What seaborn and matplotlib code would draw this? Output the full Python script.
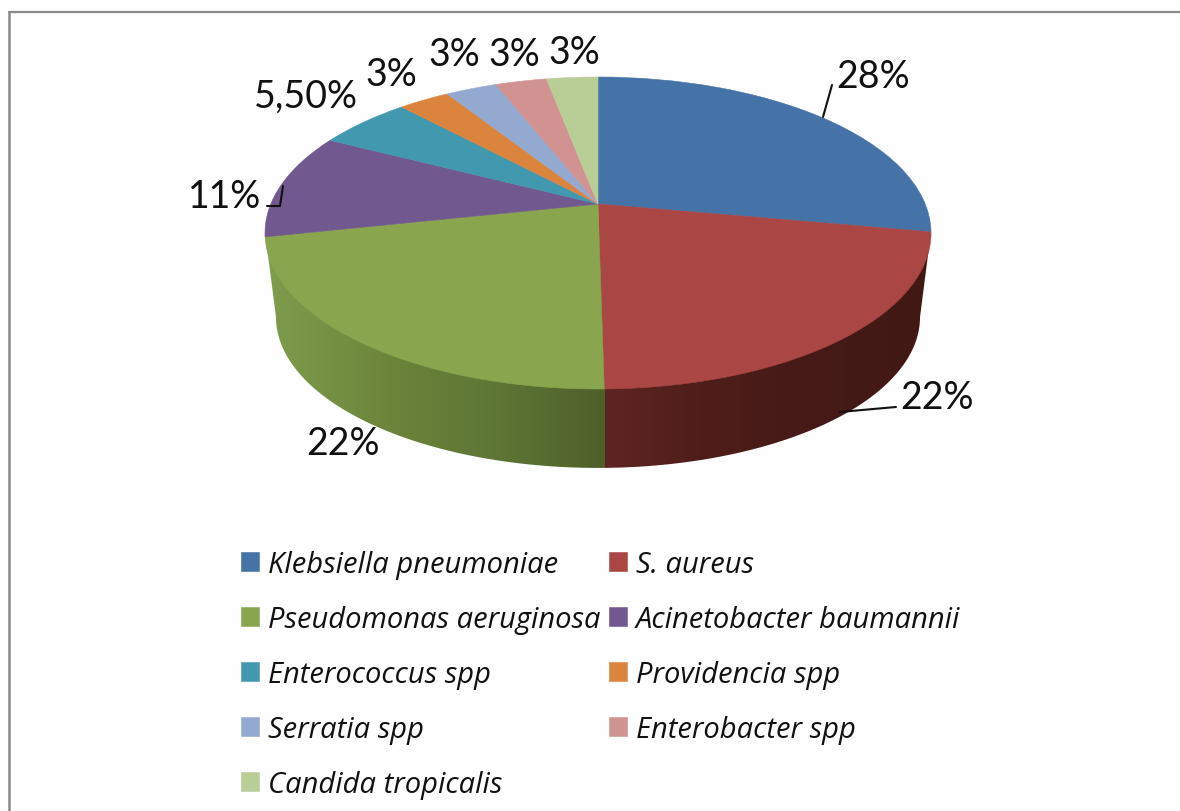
# %% Imports
import numpy as np
import matplotlib
matplotlib.use('Agg')
import matplotlib.pyplot as plt
from matplotlib.colors import to_rgb
from matplotlib.patches import Polygon
from matplotlib.transforms import Transform
import seaborn as sns

sns.set_theme(style='white')
plt.rcParams['font.family'] = ['Lato', 'DejaVu Sans']

# %% Data

species = ['Klebsiella pneumoniae', 'S. aureus', 'Pseudomonas aeruginosa', 'Acinetobacter baumannii',
           'Enterococcus spp', 'Providencia spp', 'Serratia spp', 'Enterobacter spp', 'Candida tropicalis']
percent = [28, 22, 22, 11, 5.5, 3, 3, 3, 3]
percent_labels = ['28%', '22%', '22%', '11%', '5,50%', '3%', '3%', '3%', '3%']
colors = ['#4572a7', '#aa4643', '#89a54e', '#71588f', '#4198af', '#db843d', '#93a9cf', '#d19392', '#b9cd96']

# where each label sits in the picture (pixels)
label_x = [873, 937, 343, 225, 306, 391, 454, 514, 574]
label_y = [77, 398, 444, 197, 97, 75, 55, 55, 53]

palette = sns.color_palette(colors)

# wall shading, dark side of the pie
wall_x = [266, 280, 400, 500, 604, 604.5, 700, 800, 932]
wall_colors = ['#80a04e', '#7d9a4b', '#6a8239', '#5e7535', '#4e602a', '#5f2522', '#4f1e1a', '#451a17', '#421815']


# %% Perspective view of the flat disk

class DiskView(Transform):
    input_dims = 2
    output_dims = 2
    is_separable = False

    def __init__(self, cx, cy, a, b, k):
        super().__init__()
        self.cx, self.cy, self.a, self.b, self.k = cx, cy, a, b, k

    def transform_non_affine(self, values):
        values = np.asarray(values, dtype=float)
        den = 1 + self.k * values[:, 1]
        return np.column_stack([self.cx + self.a * values[:, 0] / den,
                                self.cy - self.b * values[:, 1] / den])


top_view = DiskView(598, 205, 327.2, 150.6, 0.186)
bottom_view = DiskView(598, 290, 327.2 * 0.967, 150.6 * 0.967, 0.186)

# %% Plot

fig = plt.figure(figsize=(11.8, 8.12), dpi=100, facecolor='#fefefe')
ax = fig.add_axes([0, 0, 1, 1])

wedges, _ = ax.pie(percent, colors=palette, startangle=90, counterclock=False)
for wedge in wedges:
    wedge.set_edgecolor(wedge.get_facecolor())
    wedge.set_linewidth(0.4)
    wedge.set_transform(top_view + ax.transData)

# side wall, outline from the widest points of both rims
t = np.linspace(np.pi + 0.187, 2 * np.pi - 0.187, 200)
rim = bottom_view.transform_non_affine(np.column_stack([np.cos(t), np.sin(t)]))
upper = top_view.transform_non_affine(np.array([[0.982, -0.186], [-0.982, -0.186]]))
wall = Polygon(np.vstack([rim, upper]), closed=True, facecolor='none', edgecolor='none', transform=ax.transData)
ax.add_patch(wall)

cols = np.arange(1180)
shade = np.array([to_rgb(c) for c in wall_colors])
strip = np.column_stack([np.interp(cols, wall_x, shade[:, i]) for i in range(3)])[np.newaxis, :, :]
im = ax.imshow(strip, extent=(0, 1180, 480, 200), aspect='auto', interpolation='nearest', zorder=0)
im.set_clip_path(wall)

for text, x, y in zip(percent_labels, label_x, label_y):
    ax.text(x, y, text, fontsize=27, color='#111111', ha='center', va='center')

# leader lines
ax.plot([823, 832], [118, 86], color='#111111', lw=1.5)
ax.plot([840, 862, 896], [413, 411, 408], color='#111111', lw=1.5)
ax.plot([267, 280, 283], [207, 207, 187], color='#111111', lw=1.5)

# frame of the screenshot, top and left only
ax.plot([9, 1180], [12.5, 12.5], color='#8a8a8a', lw=1.6)
ax.plot([9, 9], [12.5, 812], color='#8a8a8a', lw=1.8)

# legend reads across in the picture, matplotlib fills columns first
order = [0, 2, 4, 6, 8, 1, 3, 5, 7]
fig.legend([wedges[i] for i in order], [species[i] for i in order], ncol=2, loc='upper left',
           bbox_to_anchor=(241 / 1180, 1 - 551 / 812),
           frameon=False, borderpad=0, borderaxespad=0,
           prop={'family': 'Open Sans', 'style': 'italic', 'size': 21},
           handlelength=0.62, handleheight=0.62, handletextpad=0.31,
           labelspacing=0.89, columnspacing=0.28, labelcolor='#111111')

ax.set_aspect('auto')
ax.set_xlim(0, 1180)
ax.set_ylim(812, 0)
ax.axis('off')

fig.savefig('out.png', dpi=100, facecolor=fig.get_facecolor())
